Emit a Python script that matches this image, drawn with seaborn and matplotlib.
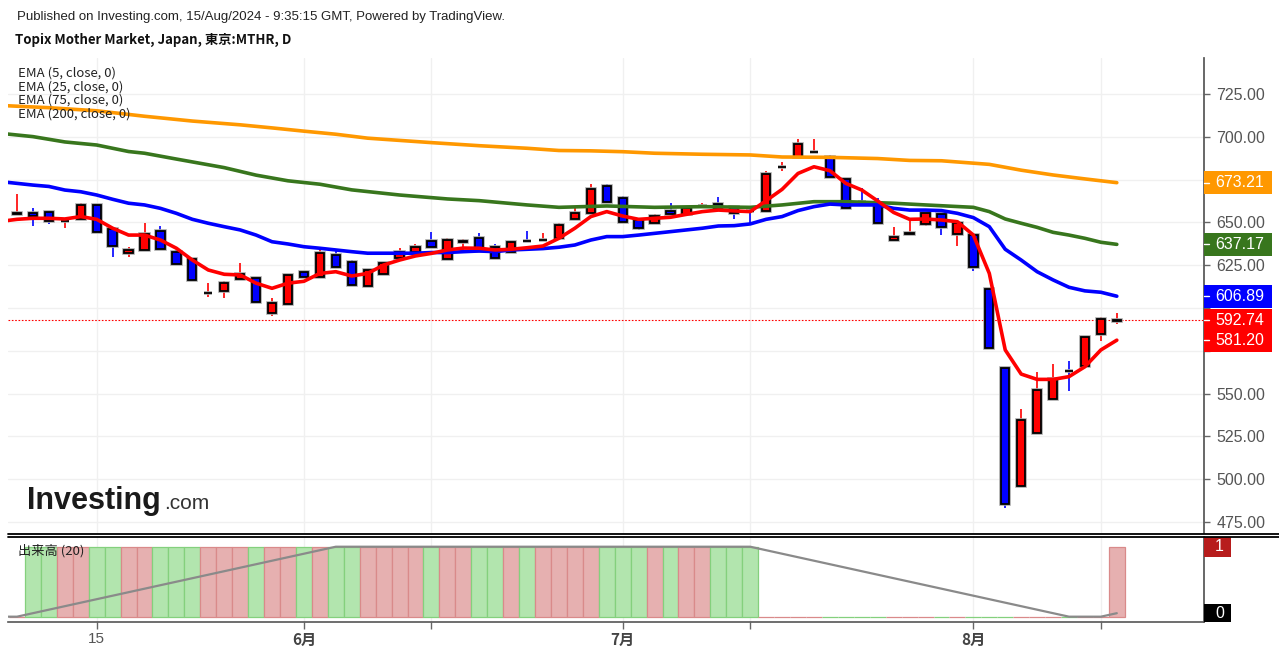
import matplotlib
matplotlib.use("Agg")
import matplotlib.pyplot as plt
import matplotlib.patches as mpatches
import matplotlib.transforms as mtransforms
from matplotlib.lines import Line2D
import seaborn as sns

# daily candles, index 0 = 8 May 2024 ... 69 = 15 Aug 2024
opens = [655.0, 655.7, 656.3, 650.6, 651.9, 660.0, 646.0, 632.0, 633.7, 645.0,
         632.9, 628.4, 608.5, 610.0, 617.0, 617.7, 596.9, 602.1, 621.2, 618.0,
         631.0, 626.7, 612.9, 619.9, 629.2, 632.7, 639.1, 628.4, 638.7, 640.7,
         635.5, 632.9, 639.4, 639.6, 640.7, 651.8, 655.3, 671.4, 664.4, 651.4,
         649.5, 656.7, 654.7, 659.5, 660.7, 658.8, 656.8, 656.7, 682.1, 688.0,
         690.9, 688.0, 675.4, 662.2, 660.7, 639.7, 643.5, 649.1, 654.7, 643.1,
         642.6, 611.0, 564.8, 496.0, 526.8, 546.8, 563.3, 566.1, 584.7, 592.6]
highs = [666.6, 658.2, 656.6, 651.2, 661.2, 660.5, 646.3, 635.5, 649.8, 647.9,
         633.9, 628.6, 614.5, 615.8, 626.1, 617.9, 605.7, 619.6, 621.4, 634.3,
         633.3, 628.0, 623.0, 626.7, 634.9, 637.4, 644.4, 640.7, 640.3, 643.6,
         637.2, 638.9, 645.1, 643.6, 649.5, 659.2, 672.4, 672.4, 665.4, 651.6,
         654.9, 661.2, 659.6, 661.2, 664.6, 659.6, 658.2, 680.2, 685.5, 698.5,
         698.5, 689.4, 675.6, 669.9, 664.0, 647.1, 651.0, 655.5, 654.9, 649.7,
         642.8, 611.2, 565.0, 540.8, 562.8, 567.1, 569.0, 583.1, 595.0, 597.3]
lows = [654.8, 648.1, 649.1, 646.6, 651.5, 644.0, 629.6, 629.6, 633.5, 634.3,
        625.3, 616.0, 606.7, 606.1, 616.8, 603.5, 595.5, 601.9, 617.4, 617.8,
        623.6, 613.2, 612.7, 619.7, 627.6, 632.5, 635.3, 628.2, 633.3, 633.3,
        628.8, 632.7, 639.0, 639.4, 640.5, 651.6, 655.1, 661.9, 649.9, 645.6,
        649.3, 654.5, 654.5, 658.6, 657.6, 651.8, 649.8, 656.5, 680.2, 687.8,
        690.7, 676.1, 658.0, 661.8, 649.3, 639.5, 643.3, 647.9, 642.6, 636.4,
        621.8, 576.3, 483.4, 495.8, 526.6, 546.6, 551.7, 565.9, 580.9, 590.6]
closes = [655.4, 653.7, 651.0, 650.9, 660.0, 644.2, 636.0, 633.9, 643.2, 634.5,
          625.5, 616.2, 608.7, 614.5, 619.7, 603.7, 602.7, 619.4, 618.0, 632.0,
          623.8, 613.4, 622.2, 626.5, 632.7, 635.5, 635.5, 639.7, 639.0, 633.5,
          629.0, 638.7, 639.2, 639.8, 648.5, 655.7, 669.5, 662.1, 650.1, 646.6,
          653.7, 654.7, 658.2, 659.7, 658.6, 655.3, 656.6, 678.3, 682.3, 695.8,
          691.1, 676.3, 658.2, 662.0, 649.5, 641.3, 643.7, 655.3, 647.5, 649.5,
          623.9, 576.5, 485.3, 534.6, 552.1, 558.3, 563.1, 582.9, 593.4, 592.74]

# EMA readings, positions -1 .. 69
ema_pos = list(range(-1, 70))
ema5 = [650.6, 651.8, 652.4, 652.4, 652.0, 653.4, 651.8, 646.6, 642.6, 642.6, 639.7,
        634.9, 628.0, 622.2, 619.7, 619.3, 614.5, 611.5, 614.5, 615.6, 620.2,
        621.2, 618.7, 620.2, 625.1, 628.0, 630.4, 631.9, 633.9, 635.0, 634.9,
        633.9, 634.3, 635.2, 636.2, 640.7, 646.6, 653.4, 656.3, 653.7, 651.8,
        652.4, 653.0, 654.7, 656.3, 657.2, 656.7, 656.3, 662.7, 669.3, 678.6,
        682.5, 680.2, 672.8, 668.9, 662.5, 655.8, 651.8, 652.0, 651.4, 650.4,
        642.6, 620.2, 575.5, 561.4, 558.3, 558.3, 559.9, 565.7, 575.5, 581.20]
ema25 = [673.8, 672.8, 671.8, 671.0, 668.9, 667.9, 666.0, 663.5, 661.2, 660.2, 658.2,
         655.3, 651.8, 649.5, 647.5, 645.6, 642.6, 638.7, 637.4, 635.8, 634.9,
         633.9, 632.9, 632.0, 632.0, 632.0, 632.0, 632.4, 632.4, 632.9, 633.3,
         632.9, 633.9, 634.3, 634.7, 635.5, 636.8, 639.7, 641.7, 641.7, 642.6,
         643.6, 644.6, 645.6, 646.6, 647.9, 648.1, 649.1, 651.8, 653.4, 656.9,
         659.2, 660.7, 660.2, 660.2, 660.2, 658.2, 657.2, 657.2, 656.9, 655.3,
         652.8, 647.5, 634.3, 628.0, 621.2, 616.4, 612.1, 610.0, 609.2, 606.89]
ema75_pos = [-1, 1, 3, 5, 7, 8, 10, 13, 15, 17, 19, 21, 24, 27, 29, 32, 34, 37, 40,
             43, 46, 48, 50, 52, 55, 57, 60, 61, 62, 63, 64, 65, 66, 67, 68, 69]
ema75 = [702.0, 700.1, 697.0, 695.2, 691.4, 690.4, 687.0, 682.0, 677.6, 674.3, 672.3,
         669.0, 666.0, 663.7, 662.7, 660.2, 658.8, 659.6, 658.8, 659.2, 658.8,
         660.2, 662.1, 662.1, 661.2, 660.2, 658.8, 656.3, 652.0, 649.5, 647.1,
         644.2, 642.6, 640.7, 638.4, 637.17]
ema200_pos = [-1, 2, 5, 8, 11, 14, 16, 18, 20, 22, 26, 29, 32, 34, 36, 38, 40, 43,
              46, 48, 51, 54, 56, 58, 61, 63, 65, 67, 69]
ema200 = [718.3, 717.0, 715.2, 712.0, 709.2, 707.0, 705.2, 703.3, 701.5, 699.2, 696.6,
          694.8, 693.3, 692.0, 691.8, 691.3, 690.4, 689.8, 689.4, 688.2, 688.0,
          687.3, 686.2, 686.0, 683.9, 680.5, 677.7, 675.4, 673.21]

volume = [0] + [1] * 46 + [0] * 22 + [1]
vol_ma = [0, 0, 0.05, 0.1, 0.15, 0.2, 0.25, 0.3, 0.35, 0.4, 0.45, 0.5, 0.55, 0.6,
          0.65, 0.7, 0.75, 0.8, 0.85, 0.9, 0.95, 1, 1, 1, 1, 1, 1, 1, 1, 1, 1, 1,
          1, 1, 1, 1, 1, 1, 1, 1, 1, 1, 1, 1, 1, 1, 1, 1, 0.95, 0.9, 0.85, 0.8,
          0.75, 0.7, 0.65, 0.6, 0.55, 0.5, 0.45, 0.4, 0.35, 0.3, 0.25, 0.2, 0.15,
          0.1, 0.05, 0, 0, 0, 0.05]

price_ticks = [475, 500, 525, 550, 575, 600, 625, 650, 675, 700, 725]
hidden_ticks = [575, 600, 675]   # covered by the value boxes
tick_pos = [5, 18, 26, 38, 46, 60, 68]
tick_labels = ['15', '6月', '', '7月', '', '8月', '']
legend_lines = ['EMA (5, close, 0)', 'EMA (25, close, 0)',
                'EMA (75, close, 0)', 'EMA (200, close, 0)']

UP, DOWN = '#ff0000', '#0000ff'
C5, C25, C75, C200 = '#ff0000', '#0000ff', '#38761d', '#ff9800'

sns.set_theme(style='white')
plt.rcParams['font.family'] = ['Liberation Sans', 'Noto Sans CJK JP', 'DejaVu Sans']
CJK = ['Noto Sans CJK JP', 'DejaVu Sans']

W, H = 1279, 656
fig = plt.figure(figsize=(W / 100, H / 100), dpi=100)
ax = fig.add_axes([8 / W, 1 - 533 / H, 1196 / W, 475 / H])
vax = fig.add_axes([8 / W, 1 - 622 / H, 1196 / W, 85 / H])

idx = list(range(len(closes)))
is_up = [c >= o for o, c in zip(opens, closes)]
col = [UP if u else DOWN for u in is_up]
body_h = [c - o for o, c in zip(opens, closes)]

# candles
ax.vlines(idx, lows, highs, colors=col, lw=1.2, zorder=3)
ax.bar(idx, body_h, bottom=opens, width=0.52, color=col, edgecolor='#a8a8a8',
       linewidth=2.6, zorder=3.5)
ax.bar(idx, body_h, bottom=opens, width=0.52, color=col, edgecolor='black',
       linewidth=1.3, zorder=4)

# moving averages
sns.lineplot(x=ema200_pos, y=ema200, ax=ax, color=C200, lw=2.6, zorder=5)
sns.lineplot(x=ema75_pos, y=ema75, ax=ax, color=C75, lw=2.6, zorder=5.1)
sns.lineplot(x=ema_pos, y=ema25, ax=ax, color=C25, lw=2.6, zorder=5.2)
sns.lineplot(x=ema_pos, y=ema5, ax=ax, color=C5, lw=2.6, zorder=5.3)

ax.axhline(closes[-1], color='#ff0000', lw=0.8, ls=(0, (1.5, 1.5)), zorder=2)

ax.set_xlim(-0.565, 74.47)
ax.set_ylim(468.57, 746.03)
ax.set_yticks(price_ticks)
ax.set_yticklabels(['' if v in hidden_ticks else f'{v:.2f}' for v in price_ticks])
ax.yaxis.tick_right()
ax.tick_params(axis='y', right=True, length=4, width=1, color='#666', pad=5,
               labelsize=11.5, labelcolor='#555')
ax.set_xticks(tick_pos)
ax.set_xticklabels([])
ax.tick_params(axis='x', length=0)
ax.grid(True, color='#f0f0f0', lw=1)
ax.set_axisbelow(True)
for s in ['top', 'left', 'bottom']:
    ax.spines[s].set_visible(False)
ax.spines['right'].set_color('#555')
ax.set_xlabel('')
ax.set_ylabel('')

# last value boxes on the price scale
bt = mtransforms.blended_transform_factory(ax.transAxes, ax.transData)
box_h = 23 / 1.712
for val, c in [(ema200[-1], C200), (ema75[-1], C75), (ema25[-1], C25),
               (closes[-1], '#ff0000'), (ema5[-1], '#ff0000')]:
    ax.add_patch(mpatches.Rectangle((1.0, val - box_h / 2), 68 / 1196, box_h,
                                    transform=bt, facecolor=c, edgecolor='none',
                                    clip_on=False, zorder=10))
    ax.plot([1.0, 1.0 + 5 / 1196], [val, val], transform=bt, color='white',
            lw=1, clip_on=False, zorder=11)
    ax.text(1.0 + 11 / 1196, val, f'{val:.2f}', transform=bt, color='white',
            fontsize=11.5, va='center', ha='left', zorder=12)

# volume panel
vcol_fill = ['#e6b0b0' if u else '#b2e5ae' for u in is_up]
vcol_edge = ['#d98a8a' if u else '#84d07d' for u in is_up]
vax.bar(idx, volume, width=1.0, color=vcol_fill, edgecolor=vcol_edge,
        linewidth=0.9, zorder=2)
sns.lineplot(x=ema_pos, y=vol_ma, ax=vax, color='#8a8a8a', lw=1.6, zorder=3)
vax.set_xlim(-0.565, 74.47)
vax.set_ylim(-0.076, 1.139)
vax.set_yticks([])
vax.set_xticks(tick_pos)
vax.set_xticklabels(tick_labels)
vax.tick_params(axis='x', bottom=True, length=5, width=1, color='#666', pad=2,
                labelsize=11, labelcolor='#555')
for lbl in vax.get_xticklabels():
    if '月' in lbl.get_text():
        lbl.set_fontfamily(CJK)
        lbl.set_fontweight('bold')
        lbl.set_color('#444')
vax.grid(True, axis='x', color='#f0f0f0', lw=1)
vax.set_axisbelow(True)
for s in ['top', 'left']:
    vax.spines[s].set_visible(False)
vax.spines['right'].set_color('#555')
vax.spines['bottom'].set_color('#555')
vax.spines['bottom'].set_linewidth(1.2)
vax.set_xlabel('')
vax.set_ylabel('')

vbt = mtransforms.blended_transform_factory(vax.transAxes, vax.transData)
for lo, hi, txt, c in [(0.858, 1.139, '1', '#b71c1c'), (-0.076, 0.181, '0', 'black')]:
    vax.add_patch(mpatches.Rectangle((1.0, lo), 27 / 1196, hi - lo, transform=vbt,
                                     facecolor=c, edgecolor='none', clip_on=False,
                                     zorder=10))
    vax.text(1.0 + 11 / 1196, (lo + hi) / 2, txt, transform=vbt, color='white',
             fontsize=11.5, va='center', ha='left', zorder=12)
vax.text(10 / 1196, 0.94, '出来高 (20)', transform=vbt, fontsize=9.5,
         family=CJK, color='#222', va='center', ha='left', zorder=12)

# panel separator
for yy in (533.5, 536.5):
    fig.add_artist(Line2D([8 / W, 1.0], [1 - yy / H, 1 - yy / H], color='black',
                          lw=1.3, transform=fig.transFigure))

# header and legend
fig.text(17 / W, 1 - 17 / H,
         'Published on Investing.com, 15/Aug/2024 - 9:35:15 GMT, Powered by TradingView.',
         fontsize=9.5, color='#222', va='center', ha='left')
fig.text(15 / W, 1 - 40 / H, 'Topix Mother Market, Japan, 東京:MTHR, D',
         fontsize=9.5, fontweight='bold', family=CJK, color='#111', va='center', ha='left')
for i, t in enumerate(legend_lines):
    fig.text(18 / W, 1 - (73 + 13.7 * i) / H, t, fontsize=9.5, family=CJK,
             color='#222', va='center', ha='left', zorder=20)

# watermark
fig.text(27 / W, 1 - 509 / H, 'Investing', fontsize=22, fontweight='bold',
         color='#1a1a1a', va='baseline', ha='left')
fig.text(164 / W, 1 - 509 / H, '.com', fontsize=15, color='#333',
         va='baseline', ha='left')

fig.savefig('out.png', dpi=100)
